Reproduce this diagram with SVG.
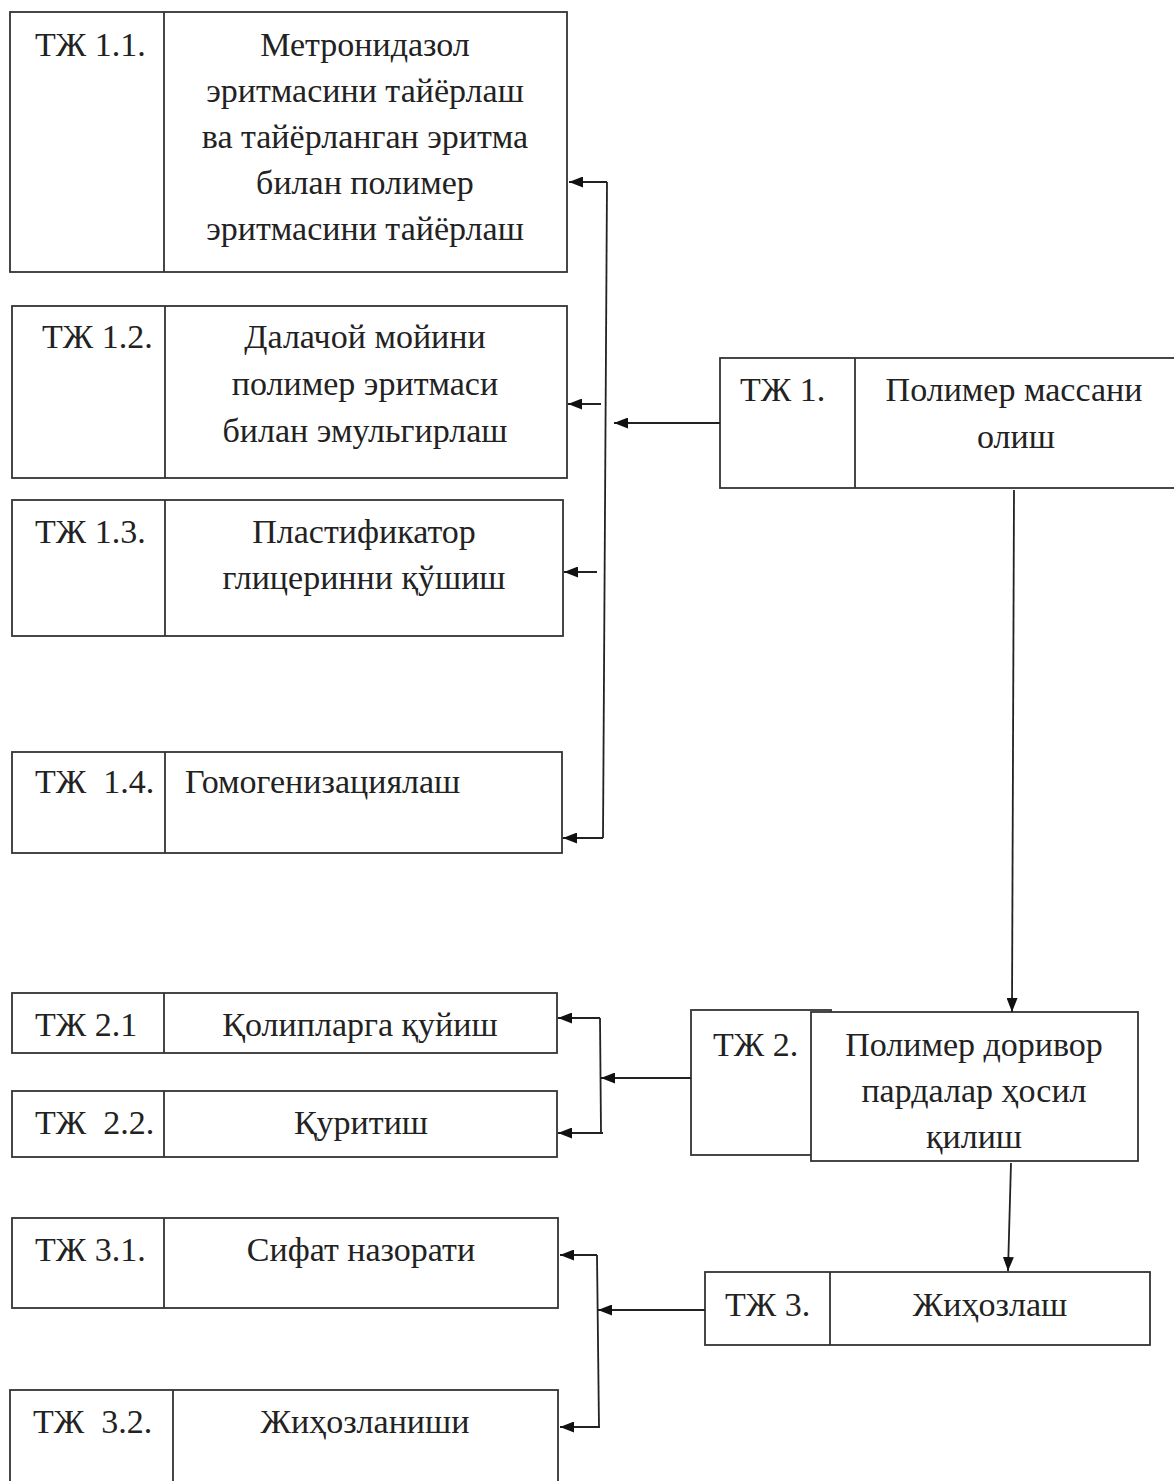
<svg xmlns="http://www.w3.org/2000/svg" width="1174" height="1481" viewBox="0 0 1174 1481">
<style>
.b{fill:#fff;stroke:#333;stroke-width:1.8}
.d{stroke:#333;stroke-width:1.8;fill:none}
text{font-family:"Liberation Serif","Times New Roman",serif;font-size:34px;fill:#222}
.c{text-anchor:middle}
.c1{stroke:#222;stroke-width:1.8;fill:none}
.a{marker-end:url(#ah)}
</style>
<defs>
<marker id="ah" markerUnits="userSpaceOnUse" markerWidth="15" markerHeight="11" refX="14" refY="5.5" orient="auto">
<path d="M0,0 L14,5.5 L0,11 z" fill="#111"/>
</marker>
</defs>
<rect width="1174" height="1481" fill="#fff"/>

<g id="n11">
<rect class="b" x="10" y="12" width="557" height="260"/>
<line class="d" x1="164" y1="12" x2="164" y2="272"/>
<text x="35" y="56">ТЖ 1.1.</text>
<text class="c" x="365" y="56">Метронидазол</text>
<text class="c" x="365" y="102">эритмасини тайёрлаш</text>
<text class="c" x="365" y="148">ва тайёрланган эритма</text>
<text class="c" x="365" y="194">билан полимер</text>
<text class="c" x="365" y="240">эритмасини тайёрлаш</text>
</g>

<g id="n12">
<rect class="b" x="12" y="306" width="555" height="172"/>
<line class="d" x1="165" y1="306" x2="165" y2="478"/>
<text x="42" y="348">ТЖ 1.2.</text>
<text class="c" x="365" y="348">Далачой мойини</text>
<text class="c" x="365" y="395">полимер эритмаси</text>
<text class="c" x="365" y="442">билан эмульгирлаш</text>
</g>

<g id="n13">
<rect class="b" x="12" y="500" width="551" height="136"/>
<line class="d" x1="165" y1="500" x2="165" y2="636"/>
<text x="35" y="543">ТЖ 1.3.</text>
<text class="c" x="364" y="543">Пластификатор</text>
<text class="c" x="364" y="589">глицеринни қўшиш</text>
</g>

<g id="n14">
<rect class="b" x="12" y="752" width="550" height="101"/>
<line class="d" x1="165" y1="752" x2="165" y2="853"/>
<text x="35" y="793" xml:space="preserve">ТЖ  1.4.</text>
<text x="185" y="793">Гомогенизациялаш</text>
</g>

<g id="n1">
<rect class="b" x="720" y="358" width="460" height="130"/>
<line class="d" x1="855" y1="358" x2="855" y2="488"/>
<text x="740" y="401">ТЖ 1.</text>
<text class="c" x="1014" y="401">Полимер массани</text>
<text class="c" x="1016" y="448">олиш</text>
</g>

<g id="n21">
<rect class="b" x="12" y="993" width="545" height="60"/>
<line class="d" x1="164" y1="993" x2="164" y2="1053"/>
<text x="35" y="1036">ТЖ 2.1</text>
<text class="c" x="360" y="1036">Қолипларга қуйиш</text>
</g>

<g id="n22">
<rect class="b" x="12" y="1091" width="545" height="66"/>
<line class="d" x1="164" y1="1091" x2="164" y2="1157"/>
<text x="35" y="1134" xml:space="preserve">ТЖ  2.2.</text>
<text class="c" x="361" y="1134">Қуритиш</text>
</g>

<g id="n2">
<rect class="b" x="691" y="1010" width="140" height="145"/>
<rect class="b" x="811" y="1012" width="327" height="149"/>
<text x="713" y="1056">ТЖ 2.</text>
<text class="c" x="974" y="1056">Полимер доривор</text>
<text class="c" x="974" y="1102">пардалар ҳосил</text>
<text class="c" x="974" y="1148">қилиш</text>
</g>

<g id="n31">
<rect class="b" x="12" y="1218" width="546" height="90"/>
<line class="d" x1="164" y1="1218" x2="164" y2="1308"/>
<text x="35" y="1261">ТЖ 3.1.</text>
<text class="c" x="361" y="1261">Сифат назорати</text>
</g>

<g id="n3">
<rect class="b" x="705" y="1272" width="445" height="73"/>
<line class="d" x1="830" y1="1272" x2="830" y2="1345"/>
<text x="725" y="1316">ТЖ 3.</text>
<text class="c" x="990" y="1316">Жиҳозлаш</text>
</g>

<g id="n32">
<rect class="b" x="10" y="1390" width="548" height="100"/>
<line class="d" x1="173" y1="1390" x2="173" y2="1490"/>
<text x="33" y="1433" xml:space="preserve">ТЖ  3.2.</text>
<text class="c" x="365" y="1433">Жиҳозланиши</text>
</g>

<g id="connectors">
<line class="c1" x1="607" y1="182" x2="603" y2="838"/>
<line class="c1 a" x1="607" y1="182" x2="569" y2="182"/>
<line class="c1 a" x1="601" y1="404" x2="568" y2="404"/>
<line class="c1 a" x1="597" y1="572" x2="564" y2="572"/>
<line class="c1 a" x1="603" y1="838" x2="563" y2="838"/>
<line class="c1 a" x1="720" y1="423" x2="614" y2="423"/>
<line class="c1 a" x1="1014" y1="490" x2="1012" y2="1012"/>
<line class="c1" x1="600" y1="1018" x2="601" y2="1133"/>
<line class="c1 a" x1="600" y1="1018" x2="558" y2="1018"/>
<line class="c1 a" x1="603" y1="1133" x2="558" y2="1133"/>
<line class="c1 a" x1="691" y1="1078" x2="601" y2="1078"/>
<line class="c1 a" x1="1011" y1="1163" x2="1008" y2="1271"/>
<line class="c1" x1="597" y1="1255" x2="599" y2="1427"/>
<line class="c1 a" x1="597" y1="1255" x2="560" y2="1255"/>
<line class="c1 a" x1="600" y1="1427" x2="560" y2="1427"/>
<line class="c1 a" x1="705" y1="1310" x2="598" y2="1310"/>
</g>
</svg>
